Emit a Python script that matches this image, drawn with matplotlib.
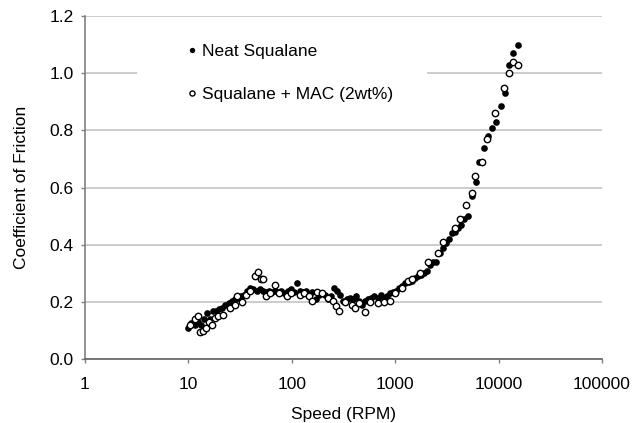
import numpy as np
import matplotlib
matplotlib.use('Agg')
import matplotlib.pyplot as plt
from matplotlib.patches import Rectangle

plt.rcParams['font.family'] = ['Liberation Sans', 'DejaVu Sans']

# Neat Squalane (filled)
neat_speed = [10, 10.7, 11.5, 12.3, 13.2, 14.1, 15.1, 16.2, 17.4, 18.6,
              20, 21.4, 22.9, 24.5, 26.3, 28.2, 30.2, 32.4, 34.7, 37.2,
              39.8, 42.7, 45.7, 49, 52.5, 56.2, 60.3, 64.6, 69.2, 74.1,
              79.4, 85.1, 91.2, 97.7, 105, 112, 120, 129, 138, 148,
              158, 170, 182, 195, 209, 224, 240, 257, 275, 295,
              316, 339, 363, 389, 417, 447, 479, 513, 550, 589,
              631, 676, 724, 776, 832, 891, 955, 1023, 1096, 1175,
              1259, 1349, 1445, 1549, 1660, 1778, 1905, 2042, 2188, 2344,
              2512, 2692, 2884, 3090, 3311, 3548, 3802, 4074, 4365, 4677,
              5012, 5495, 6026, 6457, 7244, 7943, 8710, 9550, 10470, 11480,
              12590, 13800, 15490]
neat_cof = [0.11, 0.125, 0.12, 0.13, 0.12, 0.14, 0.16, 0.14, 0.17, 0.17,
            0.175, 0.18, 0.19, 0.195, 0.205, 0.21, 0.215, 0.22, 0.225, 0.24,
            0.25, 0.245, 0.24, 0.245, 0.24, 0.235, 0.24, 0.235, 0.24, 0.235,
            0.24, 0.23, 0.24, 0.245, 0.235, 0.265, 0.24, 0.235, 0.24, 0.225,
            0.235, 0.21, 0.225, 0.23, 0.225, 0.21, 0.22, 0.25, 0.24, 0.225,
            0.205, 0.21, 0.215, 0.21, 0.22, 0.205, 0.19, 0.205, 0.21, 0.215,
            0.22, 0.215, 0.225, 0.215, 0.22, 0.23, 0.235, 0.24, 0.25, 0.255,
            0.265, 0.27, 0.275, 0.285, 0.29, 0.295, 0.30, 0.31, 0.33, 0.34,
            0.34, 0.37, 0.39, 0.405, 0.42, 0.44, 0.445, 0.46, 0.47, 0.49,
            0.50, 0.57, 0.62, 0.69, 0.74, 0.78, 0.81, 0.83, 0.885, 0.93,
            1.03, 1.07, 1.10]

# Squalane + MAC (2wt%) (open)
mac_speed = [10.5, 11.5, 12.3, 12.9, 13.8, 14.8, 15.8, 17, 18.2, 19.5,
             21.9, 25.1, 28.2, 29.5, 33.1, 36.3, 39.8, 43.7, 46.8, 50.1,
             52.5, 56.2, 61.7, 69.2, 75.9, 89.1, 97.7, 120, 132, 148,
             158, 174, 195, 224, 251, 269, 288, 331, 380, 407,
             447, 513, 575, 676, 776, 891, 1000, 1175, 1318, 1445,
             1738, 2089, 2570, 2884, 3802, 4266, 4898, 5495, 5888, 6918,
             7762, 9333, 11220, 12590, 13800, 15490]
mac_cof = [0.12, 0.14, 0.15, 0.095, 0.10, 0.11, 0.13, 0.12, 0.145, 0.15,
           0.155, 0.18, 0.19, 0.22, 0.20, 0.225, 0.24, 0.29, 0.305, 0.28,
           0.28, 0.22, 0.23, 0.26, 0.23, 0.22, 0.23, 0.225, 0.23, 0.22,
           0.205, 0.235, 0.23, 0.215, 0.205, 0.185, 0.17, 0.20, 0.19, 0.18,
           0.195, 0.165, 0.20, 0.195, 0.20, 0.205, 0.23, 0.25, 0.275, 0.28,
           0.30, 0.34, 0.37, 0.41, 0.46, 0.49, 0.54, 0.58, 0.64, 0.69,
           0.77, 0.86, 0.95, 1.00, 1.04, 1.03]

x_ticks = [1, 10, 100, 1000, 10000, 100000]
x_tick_labels = ['1', '10', '100', '1000', '10000', '100000']
y_ticks = [0.0, 0.2, 0.4, 0.6, 0.8, 1.0, 1.2]

fs = 12.5

fig = plt.figure(figsize=(6.33, 4.23), dpi=100)
ax = fig.add_axes([0.134, 0.151, 0.817, 0.811])

ax.plot(neat_speed, neat_cof, 'o', color='black', markersize=4.8,
        markeredgewidth=0, label='Neat Squalane', zorder=3)
ax.plot(mac_speed, mac_cof, 'o', markerfacecolor='white', markeredgecolor='black',
        markersize=4.6, markeredgewidth=1.0, label='Squalane + MAC (2wt%)', zorder=3)

ax.set_xscale('log')
ax.set_xlim(1, 100000)
ax.set_ylim(0, 1.2)
ax.set_xticks(x_ticks)
ax.set_xticklabels(x_tick_labels)
ax.xaxis.set_minor_locator(matplotlib.ticker.NullLocator())
ax.set_yticks(y_ticks)
ax.set_yticklabels(['{:.1f}'.format(v) for v in y_ticks])

ax.grid(True, axis='y', color='#c4c4c4', linewidth=1.2)
ax.set_axisbelow(True)
for s in ['top', 'right']:
    ax.spines[s].set_visible(False)
ax.spines['left'].set_color('#808080')
ax.spines['left'].set_linewidth(1.2)
ax.spines['bottom'].set_color('#606060')
ax.spines['bottom'].set_linewidth(1.2)
ax.tick_params(axis='both', direction='out', length=3, width=1, color='#808080',
               labelsize=fs, colors='black')
ax.tick_params(axis='y', pad=5)
ax.tick_params(axis='x', pad=10)

ax.set_xlabel('Speed (RPM)', fontsize=fs, labelpad=11)
ax.set_ylabel('Coefficient of Friction', fontsize=fs, labelpad=15)

# white block behind the legend, hiding the gridline
ax.add_patch(Rectangle((0.1006, 0.71), 0.561, 0.26, transform=ax.transAxes,
                       facecolor='white', edgecolor='none', zorder=1.5))
leg = ax.legend(loc='upper left', bbox_to_anchor=(0.18, 0.944), frameon=False,
                fontsize=fs, labelspacing=1.6, handletextpad=0.27,
                handlelength=0.6, borderpad=0, markerscale=0.8)

fig.savefig('out.png', dpi=100)
